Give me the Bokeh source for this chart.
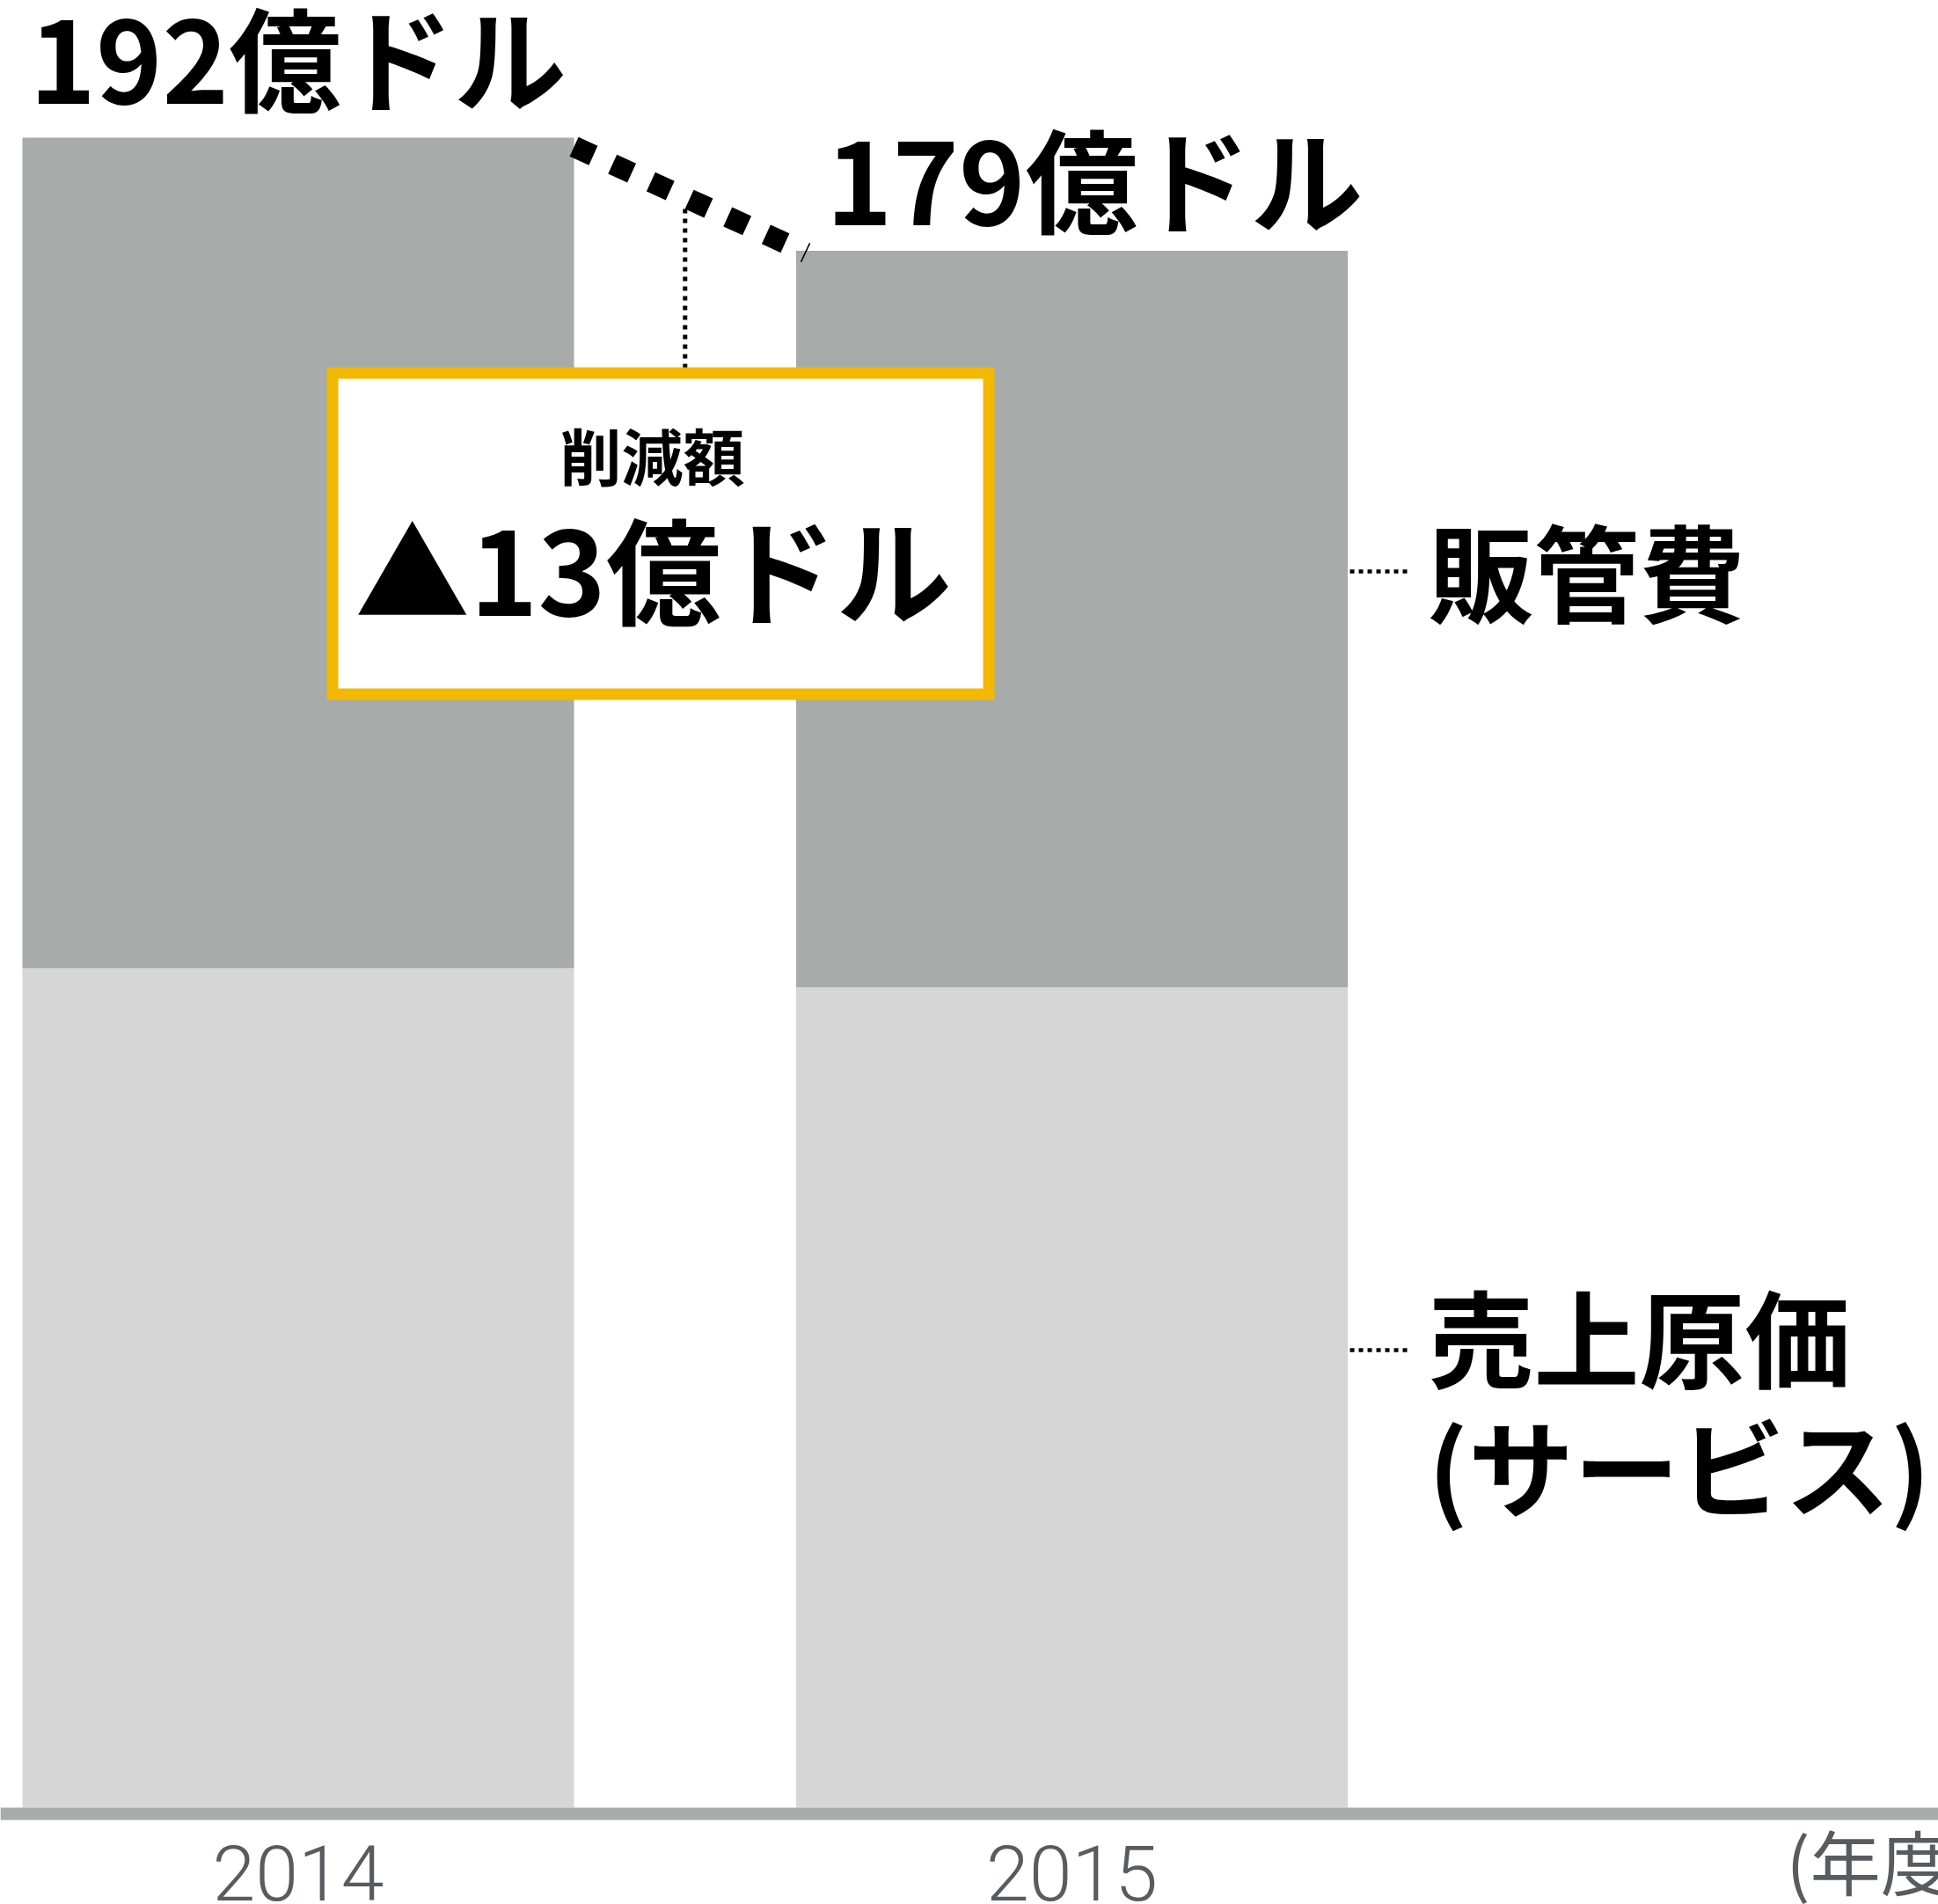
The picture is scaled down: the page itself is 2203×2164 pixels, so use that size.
from bokeh.plotting import figure
from bokeh.models import ColumnDataSource, Range1d, FixedTicker
from bokeh.core.properties import value
from bokeh.embed import file_html
from bokeh.resources import INLINE

# ---------------- data ----------------
years = [2014, 2015]
cost_of_sales = [96.5, 94.3]      # 売上原価(サービス), 億ドル
sga = [95.5, 84.7]                # 販管費, 億ドル
totals = [192, 179]
total_labels = ["192億ドル", "179億ドル"]
reduction_title = "削減額"
reduction_label = "▲13億ドル"
series_sga_label = ["販管費"]
series_cost_label = ["売上原価", "(サービス)"]
unit_label = "(年度)"

# ---------------- style ----------------
DARK = "#a7abaa"
LIGHT = "#d6d6d6"
YELLOW = "#f3b800"
TICK_GRAY = "#575c61"
JP = value("Noto Sans CJK JP")
BAR_W = 0.713
SHIFT = 0.44   # baseline correction, in em


def up(size):
    return -SHIFT * size


W, H = 2203, 2164
p = figure(width=W, height=H, output_backend="svg", toolbar_location=None,
           x_range=Range1d(2013.6151, 2016.1199), y_range=Range1d(-11.127, 207.77),
           min_border=0, y_axis_location=None)
p.outline_line_color = None
p.grid.visible = False
p.background_fill_color = "white"
p.border_fill_color = "white"

# stacked bars
src = ColumnDataSource(dict(year=years, cost=cost_of_sales, sga=sga))
p.vbar_stack(["cost", "sga"], x="year", width=BAR_W, fill_color=[LIGHT, DARK],
             line_color=None, source=src)

# x axis drawn at the baseline
ax = p.xaxis[0]
ax.fixed_location = -0.708
ax.ticker = FixedTicker(ticks=years)
ax.axis_line_color = DARK
ax.axis_line_width = 14
ax.major_tick_line_color = None
ax.minor_tick_line_color = None
ax.major_tick_out = 0
ax.major_tick_in = 0
ax.major_label_standoff = 37
ax.major_label_text_font = "Roboto Light, Roboto"
ax.major_label_text_font_size = "88px"
ax.major_label_text_color = TICK_GRAY

# total labels
tot = ColumnDataSource(dict(x=[y - BAR_W / 2 for y in years], y=totals,
                            text=total_labels, xo=[8, 34],
                            yo=[-38 + up(128), -28 + up(128)]))
p.text(x="x", y="y", text="text", x_offset="xo", y_offset="yo", source=tot,
       text_font=JP, text_font_style="bold", text_font_size="128px",
       text_baseline="alphabetic", text_align="left", text_color="black")

# diagonal dotted connector between totals
p.segment(x0=[years[0] + BAR_W / 2], y0=[totals[0] - 1.05],
          x1=[years[1] - BAR_W / 2 - 0.0143], y1=[totals[1] + 0.88],
          line_width=24, line_dash="24 24", line_color="black", line_cap="butt")
# small slash mark at the 2015 bar corner
p.segment(x0=[years[1] - BAR_W / 2 + 0.0063], y0=[totals[1] - 1.30],
          x1=[years[1] - BAR_W / 2 + 0.0177], y1=[totals[1] + 0.87],
          line_width=1.6, line_color="black")

# vertical dotted line to the box
mid = (years[0] + years[1]) / 2
p.segment(x0=[mid], y0=[183.8], x1=[mid], y1=[165.2],
          line_width=5, line_dash="5 6", line_color="black", line_cap="butt")

# callout box
p.quad(left=[2014.0443], right=[2014.8925], top=[164.93], bottom=[128.01],
       fill_color="white", line_color=YELLOW, line_width=13, line_join="miter")
p.text(x=[2014.4577], y=[152.44], text=[reduction_title], y_offset=up(70),
       text_font=JP, text_font_style="bold", text_font_size="70px",
       text_align="center", text_baseline="alphabetic", text_color="black")
p.text(x=[2014.4588], y=[136.96], text=[reduction_label], y_offset=up(131),
       text_font=JP, text_font_style="bold", text_font_size="131px",
       text_align="center", text_baseline="alphabetic", text_color="black")

# series labels on the right
lx = years[1] + BAR_W / 2
p.segment(x0=[lx + 0.0028, lx + 0.0028], y0=[142.12, 52.6],
          x1=[lx + 0.0813, lx + 0.0813], y1=[142.12, 52.6],
          line_width=4.5, line_dash="5 5", line_color="black", line_cap="butt")
lab = ColumnDataSource(dict(
    x=[2015.4605, 2015.4605, 2015.4605],
    y=[137.06, 49.06, 34.19],
    text=series_sga_label + series_cost_label))
p.text(x="x", y="y", text="text", source=lab, y_offset=up(120),
       text_font=JP, text_font_style="bold", text_font_size="120px",
       text_align="left", text_baseline="alphabetic", text_color="black")

# unit label
p.text(x=[2015.9233], y=[-9.51], text=[unit_label], y_offset=up(80), text_font=JP,
       text_font_size="80px", text_align="left", text_baseline="alphabetic",
       text_color=TICK_GRAY)

open("out.html", "w").write(file_html(p, INLINE))
